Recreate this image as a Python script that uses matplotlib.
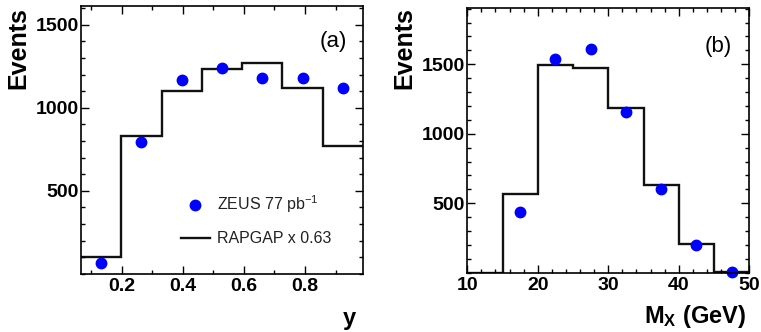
import numpy as np
import matplotlib
matplotlib.use("Agg")
import matplotlib.pyplot as plt
from matplotlib.ticker import MultipleLocator

plt.rcParams['font.family'] = ['Liberation Sans', 'DejaVu Sans']
plt.rcParams['mathtext.fontset'] = 'custom'
plt.rcParams['mathtext.rm'] = 'Liberation Sans'
plt.rcParams['mathtext.bf'] = 'Liberation Sans:bold'
plt.rcParams['mathtext.it'] = 'Liberation Sans:italic'

# panel (a): y distribution
y_edges = [0.066, 0.198, 0.33, 0.462, 0.594, 0.726, 0.858, 0.99]
y_mc = [100, 829, 1102, 1235, 1269, 1117, 769]
y_data = [62, 795, 1165, 1241, 1177, 1181, 1120]

# panel (b): M_X distribution
mx_edges = [10, 15, 20, 25, 30, 35, 40, 45, 50]
mx_mc = [0, 563, 1492, 1470, 1182, 631, 204, 5]
mx_data = [434, 1537, 1607, 1158, 604, 201, 4]
mx_centers = [17.5, 22.5, 27.5, 32.5, 37.5, 42.5, 47.5]

y_centers = [(a + b) / 2 for a, b in zip(y_edges[:-1], y_edges[1:])]

fig = plt.figure(figsize=(7.61, 3.32), dpi=100)
ax1 = fig.add_axes([0.1064, 0.1756, 0.3706, 0.806])
ax2 = fig.add_axes([0.614, 0.1786, 0.3706, 0.796])


def style(ax):
    ax.tick_params(which='both', direction='in', top=True, right=True,
                   labelsize=14, width=1.0)
    ax.tick_params(axis='x', pad=3.0)
    ax.tick_params(axis='y', pad=1.5)
    ax.tick_params(which='major', length=6)
    ax.tick_params(which='minor', length=3)
    for lab in ax.get_xticklabels() + ax.get_yticklabels():
        lab.set_fontweight('bold')
    for s in ax.spines.values():
        s.set_linewidth(1.2)


ax1.stairs(y_mc, y_edges, baseline=None, color='#111111', lw=1.7,
           label='RAPGAP x 0.63')
ax1.plot(y_centers, y_data, 'o', color='#0000ff', ms=7.5, clip_on=False,
         label='ZEUS 77 pb$^{\\mathrm{-1}}$')
ax1.set_xlim(0.066, 0.99)
ax1.set_ylim(0, 1612)
ax1.set_xticks([0.2, 0.4, 0.6, 0.8])
ax1.xaxis.set_minor_locator(MultipleLocator(0.1))
ax1.set_yticks([500, 1000, 1500])
ax1.yaxis.set_minor_locator(MultipleLocator(100))
style(ax1)
h, l = ax1.get_legend_handles_labels()
ax1.legend(h[::-1], l[::-1], loc='upper left', bbox_to_anchor=(0.355, 0.3),
           frameon=False, fontsize=11.5, handlelength=1.8, handletextpad=0.45,
           labelspacing=1.0, borderpad=0, borderaxespad=0, labelcolor='#222222')
ax1.text(0.943, 0.866, '(a)', transform=ax1.transAxes, ha='right',
         va='center', fontsize=16)
ax1.text(-0.223, 0.996, 'Events', transform=ax1.transAxes, rotation=90,
         ha='center', va='top', fontsize=18, fontweight='bold')
ax1.text(0.975, -0.193, 'y', transform=ax1.transAxes, ha='right',
         va='baseline', fontsize=17, fontweight='bold')

ax2.stairs(mx_mc, mx_edges, baseline=None, color='#111111', lw=1.7)
ax2.plot(mx_centers, mx_data, 'o', color='#0000ff', ms=7.5, clip_on=False)
ax2.set_xlim(10, 50)
ax2.set_ylim(0, 1902)
ax2.set_xticks([10, 20, 30, 40, 50])
ax2.xaxis.set_minor_locator(MultipleLocator(2))
ax2.set_yticks([500, 1000, 1500])
ax2.yaxis.set_minor_locator(MultipleLocator(100))
style(ax2)
ax2.text(0.939, 0.857, '(b)', transform=ax2.transAxes, ha='right',
         va='center', fontsize=16)
ax2.text(-0.2245, 1.005, 'Events', transform=ax2.transAxes, rotation=90,
         ha='center', va='top', fontsize=18, fontweight='bold')
ax2.text(0.988, -0.19, r'$\mathbf{M}_{\mathbf{X}}$ (GeV)',
         transform=ax2.transAxes, ha='right', va='baseline', fontsize=17,
         fontweight='bold')

fig.savefig('out.png', dpi=100)
